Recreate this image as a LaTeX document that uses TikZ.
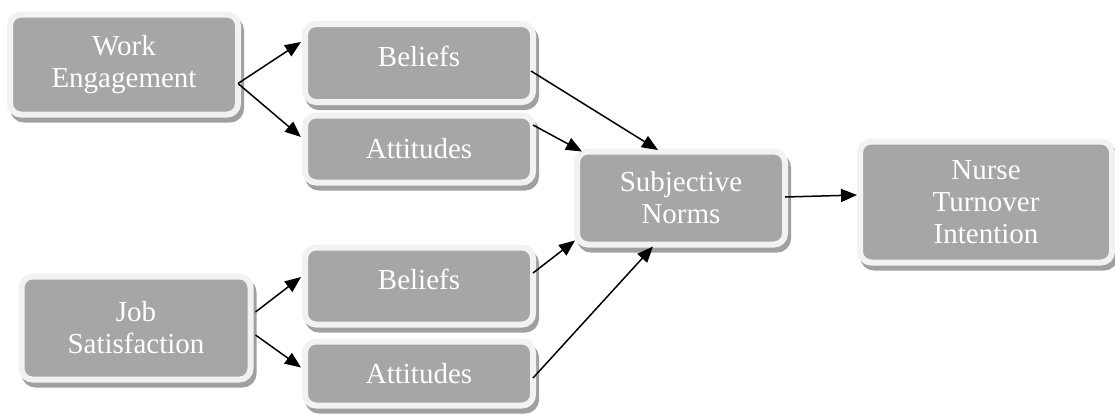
\documentclass[tikz,border=0pt]{standalone}
\usepackage{fontspec}
\setmainfont{Liberation Serif}
\usetikzlibrary{arrows.meta, shadows}
\definecolor{boxgray}{RGB}{166,166,166}
\definecolor{rimgray}{RGB}{242,242,242}
\definecolor{shadegray}{RGB}{160,160,160}

\begin{document}
\begin{tikzpicture}[x=1pt, y=-1pt,
  factor/.style={draw=rimgray, fill=boxgray, line width=6pt, rounded corners=11pt,
    outer sep=0pt, inner sep=0pt, text=white, align=center,
    font=\fontsize{29}{32}\selectfont,
    drop shadow={shadow xshift=3pt, shadow yshift=-5pt, fill=shadegray,
      draw=shadegray, line width=6pt, opacity=1}},
  link/.style={-{Triangle[length=16pt, width=13pt]}, line width=1.5pt}]
  \useasboundingbox (0,0) rectangle (1115,413);

  % Predictors
  \node[factor, minimum width=228pt, minimum height=100pt] (we) at (124, 64.5) {Work\\Engagement};
  \node[factor, minimum width=229pt, minimum height=103pt] (js) at (136, 328) {Job\\Satisfaction};

  % Beliefs and attitudes
  \node[factor, minimum width=228pt, minimum height=78pt, text depth=14pt] (b1) at (419, 63) {Beliefs};
  \node[factor, minimum width=228pt, minimum height=67pt] (a1) at (419, 149) {Attitudes};
  \node[factor, minimum width=228pt, minimum height=77pt, text depth=14pt] (b2) at (419, 286) {Beliefs};
  \node[factor, minimum width=228pt, minimum height=64pt] (a2) at (419, 373.5) {Attitudes};

  % Norms and outcome
  \node[factor, minimum width=208pt, minimum height=93pt] (sn) at (681, 198) {Subjective\\Norms};
  \node[factor, minimum width=252pt, minimum height=121pt] (nti) at (986, 202) {Nurse\\Turnover\\Intention};

  % Arrows
  \draw[link] ([yshift=-19pt]we.east) -- ([xshift=-4pt, yshift=21pt]b1.west);
  \draw[link] ([yshift=-19pt]we.east) -- ([xshift=-4pt, yshift=12pt]a1.west);
  \draw[link] ([xshift=5pt, yshift=16pt]js.east) -- ([xshift=-4pt, yshift=9pt]b2.west);
  \draw[link] ([xshift=5pt, yshift=-7pt]js.east) -- ([xshift=-4pt, yshift=6pt]a2.west);
  \draw[link] ([xshift=-2pt, yshift=-8pt]b1.east) -- ([xshift=-23pt, yshift=1.5pt]sn.north);
  \draw[link] ([yshift=24pt]a1.east) -- ([xshift=5pt]sn.north west);
  \draw[link] ([yshift=13pt]b2.east) -- ([xshift=-2pt, yshift=4pt]sn.south west);
  \draw[link] ([yshift=-4.5pt]a2.east) -- ([xshift=-28pt, yshift=-2pt]sn.south);
  \draw[link] ([yshift=1pt]sn.east) -- ([xshift=-3pt, yshift=7pt]nti.west);
\end{tikzpicture}
\end{document}
